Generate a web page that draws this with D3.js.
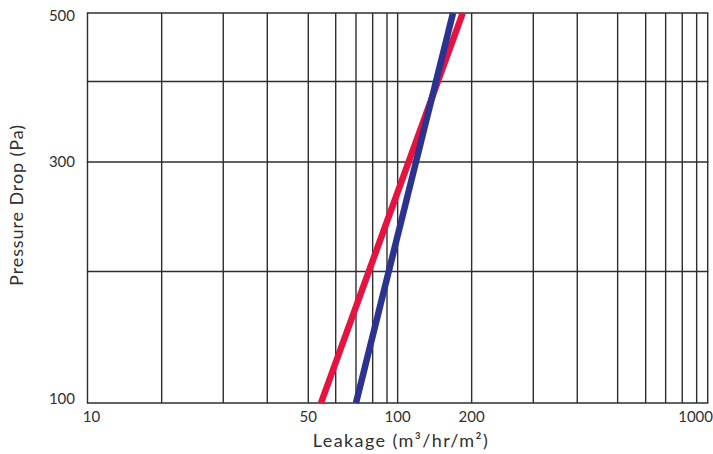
<!DOCTYPE html>
<html>
<head>
<meta charset="utf-8">
<script src="https://cdn.jsdelivr.net/npm/d3@7"></script>
<style>
  html, body { margin: 0; padding: 0; background: #ffffff; }
  svg { display: block; }
  text { font-family: Lato, "Open Sans", sans-serif; fill: #303030; }
</style>
</head>
<body>
<svg id="chart" width="713" height="454"></svg>
<script>
// ---- data ----
const xGridValues = [10, 20, 30, 40, 50, 60, 70, 80, 90, 100, 200, 300, 400, 500, 600, 700, 800, 900, 1000];
const yGridValues = [100, 200, 300, 400, 500];
const xTickLabels = [10, 50, 100, 200, 1000];
const yTickLabels = [100, 300, 500];
const seriesNames = ["red", "blue"];
const redLeakage = [54.4, 184];
const redPressure = [100, 500];
const blueLeakage = [70, 168];
const bluePressure = [100, 500];
const xTitle = "Leakage (m³/hr/m²)";
const yTitle = "Pressure Drop (Pa)";

(function () {
  // ---- layout ----
  const svg = d3.select("#chart");
  const plotLeft = 87.5, plotRight = 707.7, plotTop = 13, plotBottom = 403;

  // The printed chart's grid is hand-ruled and not evenly logarithmic, so a
  // piecewise log scale reproduces its gridline spacing.
  const xRangeFrac = [0, 0.1196, 0.2189, 0.2899, 0.3560, 0.4002, 0.4329, 0.4598, 0.4829, 0.5001,
                      0.6194, 0.7188, 0.7897, 0.8548, 0.9000, 0.9322, 0.9590, 0.9822, 1];
  const x = d3.scaleLog()
    .domain(xGridValues)
    .range(xRangeFrac.map(f => plotLeft + f * (plotRight - plotLeft)));

  const yRangeFrac = [0, 0.3372, 0.6179, 0.8244, 1];
  const y = d3.scaleLog()
    .domain(yGridValues)
    .range(yRangeFrac.map(f => plotBottom - f * (plotBottom - plotTop)));

  const gridColor = "#2e2e2e";

  // vertical gridlines
  svg.append("g")
    .selectAll("line")
    .data(xGridValues)
    .join("line")
    .attr("x1", d => x(d)).attr("x2", d => x(d))
    .attr("y1", y(100)).attr("y2", y(500))
    .attr("stroke", gridColor)
    .attr("stroke-width", 1.4);

  // horizontal gridlines
  svg.append("g")
    .selectAll("line")
    .data(yGridValues)
    .join("line")
    .attr("x1", x(10) - 0.7).attr("x2", x(1000) + 0.7)
    .attr("y1", d => y(d)).attr("y2", d => y(d))
    .attr("stroke", gridColor)
    .attr("stroke-width", 1.4);

  // series
  const series = [
    { name: seriesNames[0], color: "#e6123f", pts: redLeakage.map((v, i) => [v, redPressure[i]]) },
    { name: seriesNames[1], color: "#2c3290", pts: blueLeakage.map((v, i) => [v, bluePressure[i]]) }
  ];
  const line = d3.line().x(d => x(d[0])).y(d => y(d[1]));
  svg.append("g")
    .selectAll("path")
    .data(series)
    .join("path")
    .attr("d", d => line(d.pts))
    .attr("fill", "none")
    .attr("stroke", d => d.color)
    .attr("stroke-width", 6.5);

  // x tick labels
  svg.append("g")
    .selectAll("text")
    .data(xTickLabels)
    .join("text")
    .attr("x", d => d === 1000 ? 713 : x(d) + (d === 10 ? 4 : 0))
    .attr("y", 422)
    .attr("text-anchor", d => d === 1000 ? "end" : "middle")
    .style("font-size", "15px")
    .text(d => d);

  // y tick labels
  svg.append("g")
    .selectAll("text")
    .data(yTickLabels)
    .join("text")
    .attr("x", 75)
    .attr("y", d => y(d) + 5 + (d === 500 ? 3 : 0) - (d === 100 ? 4 : 0))
    .attr("text-anchor", "end")
    .style("font-size", "15px")
    .text(d => d);

  // axis titles
  svg.append("text")
    .attr("x", 401)
    .attr("y", 447)
    .attr("text-anchor", "middle")
    .style("font-size", "18px")
    .style("letter-spacing", "1.4px")
    .text(xTitle);

  svg.append("text")
    .attr("transform", "translate(23,205) rotate(-90)")
    .attr("text-anchor", "middle")
    .style("font-size", "18px")
    .style("letter-spacing", "0.9px")
    .text(yTitle);
})();
</script>
</body>
</html>
